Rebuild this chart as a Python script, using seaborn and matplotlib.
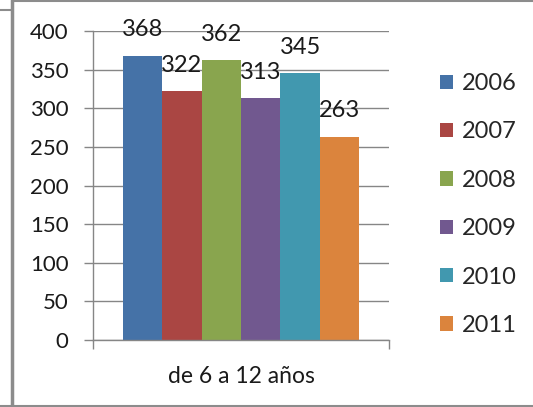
import numpy as np
import pandas as pd
import matplotlib.pyplot as plt
import seaborn as sns
from matplotlib.lines import Line2D

categories = ["de 6 a 12 años"]
years = ["2006", "2007", "2008", "2009", "2010", "2011"]
values = [368, 322, 362, 313, 345, 263]
colors = ["#4572A7", "#AA4643", "#89A54E", "#71588F", "#4198AF", "#DB843D"]

df = pd.DataFrame({
    "Grupo": categories * len(years),
    "Año": years,
    "Total": values,
})

sns.set_theme(style="white")
plt.rcParams['font.family'] = ['Lato', 'DejaVu Sans']

W, H = 533, 407
fig = plt.figure(figsize=(W / 100, H / 100), dpi=100)
ax = fig.add_axes([93 / W, (H - 340) / H, (389 - 93) / W, (340 - 31) / H])

sns.barplot(data=df, x="Grupo", y="Total", hue="Año", palette=colors,
            saturation=1, width=0.8, linewidth=0, ax=ax, legend=True)

grid_c = "#868686"
ax.set_ylim(0, 400)
ax.set_xlim(-0.5, 0.5)
ax.set_yticks(np.arange(0, 401, 50))
ax.yaxis.grid(True, color=grid_c, lw=1)
ax.set_axisbelow(True)
ax.set_xlabel("")
ax.set_ylabel("")
for s in ["top", "right"]:
    ax.spines[s].set_visible(False)
for s in ["left", "bottom"]:
    ax.spines[s].set_color(grid_c)
    ax.spines[s].set_linewidth(1)

ax.tick_params(axis="y", direction="out", length=6.5, width=1, color=grid_c,
               pad=11, labelsize=16, labelcolor="#1a1a1a", left=True)
ax.tick_params(axis="x", which="major", length=0, pad=19, labelsize=16.5,
               labelcolor="#1a1a1a")
ax.set_xticks([-0.5, 0.5], minor=True)
ax.tick_params(axis="x", which="minor", direction="out", length=6.5, width=1,
               color=grid_c, bottom=True)

# data labels above each bar
for cont in ax.containers:
    for bar in cont:
        h = bar.get_height()
        ax.annotate(f"{h:.0f}", (bar.get_x() + bar.get_width() / 2, h),
                    xytext=(0, 18.7), textcoords="offset points",
                    ha="center", va="center", fontsize=17, color="#1a1a1a")

handles, labels = ax.get_legend_handles_labels()
ax.legend(handles, labels, loc="upper left",
          bbox_to_anchor=(440 / W, (H - 73) / H), bbox_transform=fig.transFigure,
          frameon=False, fontsize=17, handlelength=0.55, handleheight=0.55,
          handletextpad=0.38, labelspacing=1.16, borderpad=0, borderaxespad=0)

# outer frame of the chart area
fc = "#8c8c8c"
fig.add_artist(Line2D([11.5 / W, 11.5 / W], [0, 1], color=fc, lw=2.5,
                      transform=fig.transFigure))
fig.add_artist(Line2D([12 / W, 1], [1 - 1 / H, 1 - 1 / H], color=fc, lw=1.5,
                      transform=fig.transFigure))
fig.add_artist(Line2D([0, 1], [1.5 / H, 1.5 / H], color=fc, lw=1.5,
                      transform=fig.transFigure))
fig.add_artist(Line2D([0, 11 / W], [1 - 10 / H, 1 - 10 / H], color=fc, lw=1.5,
                      transform=fig.transFigure))

fig.savefig("out.png", dpi=100)
